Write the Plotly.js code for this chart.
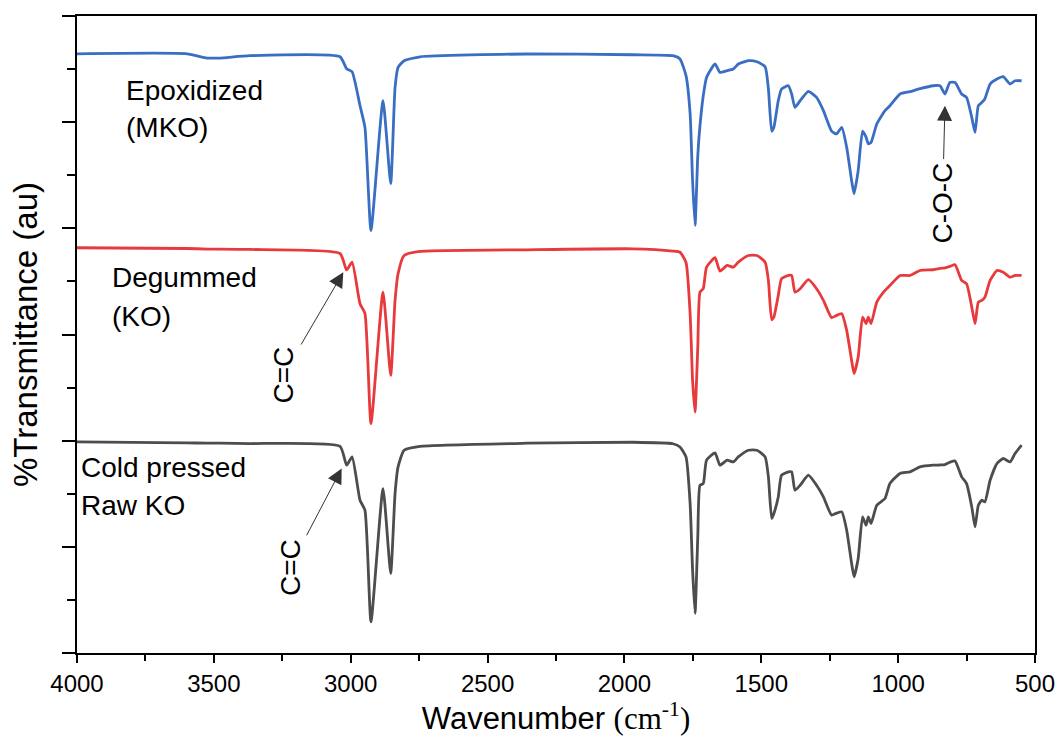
<!DOCTYPE html>
<html>
<head>
<meta charset="utf-8">
<script src="https://cdn.plot.ly/plotly-3.0.1.min.js"></script>
<style>html,body{margin:0;padding:0;background:#fff;}#chart{width:1060px;height:743px;}</style>
</head>
<body>
<div id="chart"></div>
<script>
// Wavenumber grid (cm-1)
const wavenumber = [4000,3598,3525,3478,3368,3039,3015,2995,2966,2948,2926,2882,2854,2838,2827,2805,2747,2356,1969,1823,
  1797,1775,1760,1751,1742,1732,1724,1712,1700,1669,1651,1625,1602,1584,1547,1516,1486,1474,1462,1454,
  1438,1426,1401,1389,1377,1358,1328,1298,1273,1243,1225,1206,1188,1170,1161,1146,1130,1117,1109,1099,
  1078,1048,1030,993,957,920,872,847,829,811,792,768,750,731,719,707,694,683,664,639,616,591,573,549];

// %Transmittance (au), offset spectra
const epoxidizedMKO = [5.644,5.644,5.604,5.604,5.626,5.616,5.503,5.475,5.155,4.951,3.979,5.202,4.421,5.327,5.516,5.579,5.616,5.642,5.635,5.626,
  5.595,5.438,5.080,4.450,4.027,4.685,4.967,5.249,5.421,5.548,5.469,5.485,5.501,5.548,5.579,5.569,5.522,5.315,4.915,4.951,
  5.202,5.312,5.343,5.265,5.139,5.202,5.290,5.233,5.108,4.915,4.889,4.951,4.763,4.450,4.325,4.544,4.915,4.857,4.795,4.810,
  4.983,5.108,5.155,5.265,5.287,5.315,5.343,5.343,5.265,5.374,5.374,5.265,5.233,5.045,4.904,5.155,5.186,5.221,5.359,5.406,5.428,5.359,5.390,5.390];

const degummedKO = [3.817,3.810,3.805,3.805,3.801,3.763,3.608,3.681,3.290,3.198,2.161,3.399,2.615,3.321,3.572,3.744,3.782,3.798,3.807,3.786,
  3.775,3.678,3.196,2.568,2.270,2.881,3.399,3.431,3.634,3.723,3.596,3.650,3.634,3.681,3.744,3.744,3.681,3.509,3.139,3.164,
  3.368,3.525,3.556,3.556,3.399,3.431,3.516,3.431,3.321,3.158,3.180,3.196,3.039,2.756,2.631,2.787,3.164,3.102,3.164,3.102,
  3.305,3.415,3.462,3.556,3.556,3.603,3.610,3.622,3.628,3.641,3.657,3.509,3.478,3.258,3.102,3.305,3.321,3.352,3.509,3.603,3.587,3.540,3.556,3.556];

const coldPressedRawKO = [1.988,1.980,1.976,1.976,1.973,1.947,1.769,1.847,1.439,1.345,0.294,1.549,0.750,1.502,1.753,1.910,1.947,1.976,1.985,1.971,
  1.941,1.847,1.408,0.781,0.373,1.094,1.580,1.596,1.816,1.884,1.769,1.816,1.800,1.847,1.910,1.910,1.847,1.659,1.267,1.314,
  1.470,1.675,1.706,1.706,1.533,1.580,1.675,1.580,1.470,1.298,1.317,1.329,1.157,0.844,0.718,0.891,1.282,1.204,1.282,1.220,
  1.392,1.455,1.596,1.691,1.706,1.753,1.769,1.771,1.775,1.797,1.809,1.659,1.596,1.376,1.188,1.392,1.439,1.423,1.627,1.785,1.832,1.800,1.879,1.957];

const seriesColors = ['#3a6ec2', '#e83a3d', '#4d4d4d'];

// Sample labels
const labelTexts = ['Epoxidized', '(MKO)', 'Degummed', '(KO)', 'Cold pressed', 'Raw KO'];
const labelX = [3828, 3828, 3879, 3879, 3992, 3992];
const labelY = [5.296, 4.948, 3.537, 3.170, 1.750, 1.392];

// Band annotations (rotated text with arrow to the band)
const bandTexts = ['C=C', 'C=C', 'C-O-C'];
const bandTextX = [3247, 3222, 838];
const bandTextY = [2.615, 0.809, 4.238];
const arrowHeadX = [3027, 3033, 829];
const arrowHeadY = [3.587, 1.738, 5.155];

const FONT = 'Liberation Sans, Arial, sans-serif';

const traces = [epoxidizedMKO, degummedKO, coldPressedRawKO].map((ys, i) => ({
  x: wavenumber, y: ys, type: 'scatter', mode: 'lines',
  line: {color: seriesColors[i], width: 2.8, shape: 'spline', smoothing: 0.5},
  hoverinfo: 'skip', showlegend: false
}));

const annotations = [];
labelTexts.forEach((t, i) => annotations.push({
  x: labelX[i], y: labelY[i], xref: 'x', yref: 'y', text: t, showarrow: false,
  xanchor: 'left', yanchor: 'middle', font: {family: FONT, size: 28, color: '#000'}
}));
bandTexts.forEach((t, i) => {
  annotations.push({
    x: arrowHeadX[i], y: arrowHeadY[i], xref: 'x', yref: 'y', text: t, showarrow: true,
    ax: bandTextX[i], ay: bandTextY[i], axref: 'x', ayref: 'y',
    textangle: -90, font: {family: FONT, size: 28, color: '#000'},
    arrowhead: 2, arrowsize: 3, arrowwidth: 1, arrowcolor: '#333', standoff: 0, startstandoff: 2
  });
});

const layout = {
  width: 1060, height: 743,
  margin: {l: 77, r: 25, t: 16, b: 90},
  paper_bgcolor: '#fff', plot_bgcolor: '#fff',
  showlegend: false,
  xaxis: {
    range: [4000, 500], tickmode: 'linear', tick0: 500, dtick: 500,
    ticks: 'outside', ticklen: 8, tickwidth: 2, tickcolor: '#000',
    minor: {dtick: 250, ticks: 'outside', ticklen: 6, tickwidth: 2, tickcolor: '#000'},
    showline: true, linecolor: '#000', linewidth: 2, mirror: true,
    showgrid: false, zeroline: false,
    tickfont: {family: FONT, size: 24, color: '#000'},
    title: {text: 'Wavenumber <span style="font-family:Liberation Serif, Times New Roman, serif">(cm<sup>-1</sup>)</span>',
      font: {family: FONT, size: 31, color: '#000'}, standoff: 8}
  },
  yaxis: {
    range: [0, 6], tickmode: 'linear', tick0: 0, dtick: 1, showticklabels: false,
    ticks: 'outside', ticklen: 13, tickwidth: 2, tickcolor: '#000',
    minor: {dtick: 0.5, ticks: 'outside', ticklen: 8, tickwidth: 2, tickcolor: '#000'},
    showline: true, linecolor: '#000', linewidth: 2, mirror: true,
    showgrid: false, zeroline: false,
    title: {text: '%Transmittance (au)', font: {family: FONT, size: 33, color: '#000'}, standoff: 14}
  },
  annotations: annotations
};

Plotly.newPlot('chart', traces, layout, {staticPlot: true, displayModeBar: false});
</script>
</body>
</html>
